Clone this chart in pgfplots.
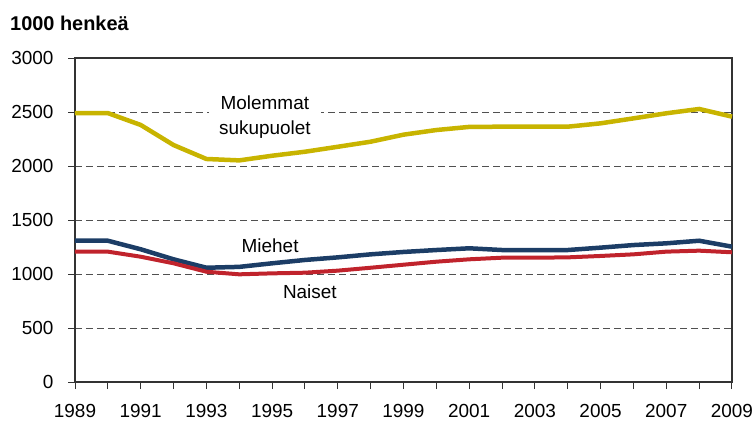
\documentclass[border=0pt]{standalone}
\usepackage{pgfplots}
\pgfplotsset{compat=1.18}
\usepackage{fontspec}
\setmainfont{Liberation Sans}
\definecolor{kulta}{HTML}{C8B400}
\definecolor{sini}{HTML}{1C3D66}
\definecolor{puna}{HTML}{C0232C}
\definecolor{ruudukko}{HTML}{505050}

\begin{document}
\fontsize{19}{25}\selectfont
\begin{tikzpicture}
\path[use as bounding box] (-75bp,-41bp) rectangle (678bp,382bp);
\begin{axis}[
    at={(0,0)}, anchor=south west,
    scale only axis, width=657bp, height=324bp,
    xmin=1989, xmax=2009, ymin=0, ymax=3000,
    xtick={1989,...,2009},
    xticklabels={1989,,1991,,1993,,1995,,1997,,1999,,2001,,2003,,2005,,2007,,2009},
    ytick={0,500,...,3000},
    tick pos=left, tick align=outside,
    major tick length=7bp,
    tick style={color=black!80, line width=1pt},
    axis line style={black!80, line width=1.1pt},
    ymajorgrids,
    grid style={ruudukko, line width=1pt, dash pattern=on 7bp off 4bp},
    tick label style={font=\fontsize{19}{22}\selectfont,
        /pgf/number format/assume math mode=true},
    /pgf/number format/1000 sep={},
    xticklabel style={yshift=-9bp},
    yticklabel style={xshift=-8bp},
    clip=false,
]
\addplot[kulta, line width=4.5bp] coordinates {
    (1989,2490) (1990,2490) (1991,2380) (1992,2194) (1993,2065)
    (1994,2052) (1995,2095) (1996,2132) (1997,2178) (1998,2225)
    (1999,2290) (2000,2333) (2001,2362) (2002,2364) (2003,2364)
    (2004,2364) (2005,2395) (2006,2441) (2007,2488) (2008,2528)
    (2009,2457)
};
\addplot[sini, line width=4.5bp] coordinates {
    (1989,1308) (1990,1308) (1991,1229) (1992,1136) (1993,1058)
    (1994,1066) (1995,1099) (1996,1130) (1997,1154) (1998,1182)
    (1999,1204) (2000,1222) (2001,1238) (2002,1222) (2003,1222)
    (2004,1222) (2005,1244) (2006,1268) (2007,1284) (2008,1308)
    (2009,1253)
};
\addplot[puna, line width=4bp] coordinates {
    (1989,1207) (1990,1207) (1991,1160) (1992,1099) (1993,1021)
    (1994,997) (1995,1006) (1996,1012) (1997,1031) (1998,1058)
    (1999,1086) (2000,1114) (2001,1136) (2002,1151) (2003,1151)
    (2004,1154) (2005,1167) (2006,1182) (2007,1207) (2008,1216)
    (2009,1201)
};
\node[fill=white, align=center, inner xsep=10bp, inner ysep=2bp]
    at (axis cs:1994.78,2449) {Molemmat\\sukupuolet};
\node at (axis cs:1994.94,1259) {Miehet};
\node at (axis cs:1996.15,833) {Naiset};
\end{axis}
\node[anchor=base west, inner sep=0pt, font=\bfseries\fontsize{20}{22}\selectfont]
    at (-65bp,351bp) {1000 henkeä};
\end{tikzpicture}
\end{document}
